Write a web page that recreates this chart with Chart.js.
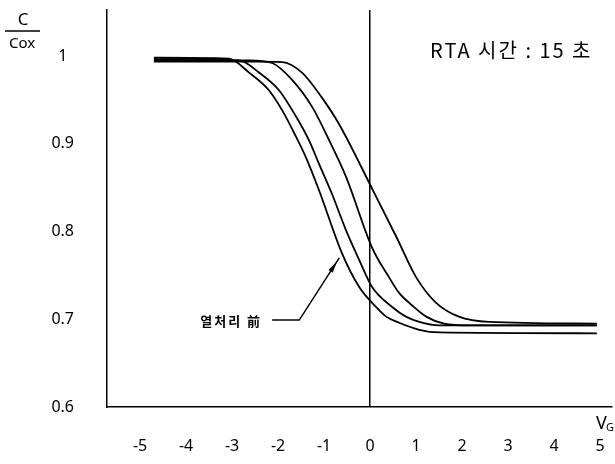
<!DOCTYPE html>
<html>
<head>
  <meta charset="UTF-8">
  <title>C/Cox - VG</title>
  <script src="https://cdn.jsdelivr.net/npm/chart.js"></script>
  <style>
    body {
      margin: 0;
      background: #fff;
    }
    #wrap {
      width: 615px;
      height: 464px;
    }
  </style>
</head>
<body>
<div id="wrap"><canvas id="chart"></canvas></div>

<script>
  // tick values on both axes
  const xTicks = [-5, -4, -3, -2, -1, 0, 1, 2, 3, 4, 5];
  const yTicks = [0.6, 0.7, 0.8, 0.9, 1];

  // curve 1 (열처리 前, leftmost)
  const vg1 = [-4.70, -3.07, -2.63, -2.20, -1.91, -1.61, -1.39, -1.11, -0.61, -0.24, 0.13, 0.35, 0.63, 1.07, 1.50, 4.93];
  const c1  = [0.998, 0.997, 0.981, 0.961, 0.938, 0.908, 0.884, 0.847, 0.775, 0.737, 0.714, 0.703, 0.696, 0.688, 0.685, 0.684];

  // curve 2
  const vg2 = [-4.70, -2.85, -2.41, -1.98, -1.61, -1.33, -1.11, -0.83, -0.52, -0.24, 0.04, 0.48, 0.78, 1.07, 1.50, 4.93];
  const c2  = [0.9965, 0.995, 0.981, 0.961, 0.931, 0.904, 0.877, 0.843, 0.801, 0.768, 0.737, 0.714, 0.703, 0.697, 0.693, 0.693];

  // curve 3
  const vg3 = [-4.70, -2.63, -2.13, -1.70, -1.26, -0.89, -0.52, 0.04, 0.41, 0.63, 0.91, 1.22, 1.61, 2.15, 4.93];
  const c3  = [0.995, 0.995, 0.992, 0.973, 0.942, 0.904, 0.862, 0.782, 0.748, 0.730, 0.716, 0.703, 0.695, 0.693, 0.693];

  // curve 4 (rightmost)
  const vg4 = [-4.70, -2.48, -1.91, -1.48, -1.04, -0.67, 0.09, 0.57, 1.00, 1.43, 1.93, 2.59, 4.93];
  const c4  = [0.9935, 0.9935, 0.993, 0.981, 0.952, 0.922, 0.844, 0.794, 0.748, 0.719, 0.703, 0.697, 0.695];

  // arrow annotation, in data units
  const noteText = '열처리 前';
  const noteTip = { x: -0.67, y: 0.770 };
  const noteElbow = { x: -1.54, y: 0.699 };
  const noteStart = { x: -2.13, y: 0.699 };

  function toPoints(xs, ys) {
    return xs.map((x, i) => ({ x: x, y: ys[i] }));
  }

  function curve(xs, ys) {
    return {
      data: toPoints(xs, ys),
      borderColor: '#000',
      borderWidth: 1.8,
      pointRadius: 0,
      fill: false,
      cubicInterpolationMode: 'monotone'
    };
  }

  const handFont = '"Noto Sans", "Noto Sans CJK KR", sans-serif';

  // extra labels: C/Cox, VG, RTA note and the arrow
  const notes = {
    id: 'notes',
    afterDraw(chart) {
      const ctx = chart.ctx;
      const x = chart.scales.x;
      const y = chart.scales.y;
      ctx.save();
      ctx.fillStyle = '#000';
      ctx.strokeStyle = '#000';
      ctx.textBaseline = 'middle';

      // C / Cox
      ctx.textAlign = 'center';
      ctx.font = '17px ' + handFont;
      ctx.fillText('C', 23, 20);
      ctx.lineWidth = 1.5;
      ctx.beginPath();
      ctx.moveTo(5, 31);
      ctx.lineTo(40, 31);
      ctx.stroke();
      ctx.font = '15px ' + handFont;
      ctx.fillText('Cox', 22, 44);

      // VG
      ctx.textAlign = 'left';
      ctx.font = '18px ' + handFont;
      ctx.fillText('V', 596, 424);
      ctx.font = '11px ' + handFont;
      ctx.fillText('G', 606, 428);

      // RTA 시간 : 15 초
      ctx.font = '20px "Noto Sans CJK KR", sans-serif';
      ctx.letterSpacing = '2px';
      ctx.fillText('RTA 시간 : 15 초', 430, 50);

      // arrow
      const tx = x.getPixelForValue(noteTip.x), ty = y.getPixelForValue(noteTip.y);
      const ex = x.getPixelForValue(noteElbow.x), ey = y.getPixelForValue(noteElbow.y);
      const sx = x.getPixelForValue(noteStart.x), sy = y.getPixelForValue(noteStart.y);
      ctx.lineWidth = 1.5;
      ctx.beginPath();
      ctx.moveTo(sx, sy);
      ctx.lineTo(ex, ey);
      ctx.lineTo(tx, ty);
      ctx.stroke();
      const ang = Math.atan2(ty - ey, tx - ex);
      const hx = tx - Math.cos(ang) * 4, hy = ty - Math.sin(ang) * 4;
      ctx.beginPath();
      ctx.moveTo(hx, hy);
      ctx.lineTo(hx - Math.cos(ang) * 12 - Math.sin(ang) * 2.5, hy - Math.sin(ang) * 12 + Math.cos(ang) * 2.5);
      ctx.lineTo(hx - Math.cos(ang) * 12 + Math.sin(ang) * 2.5, hy - Math.sin(ang) * 12 - Math.cos(ang) * 2.5);
      ctx.closePath();
      ctx.fill();

      ctx.textAlign = 'right';
      ctx.font = 'bold 13px "Noto Sans CJK KR", sans-serif';
      ctx.letterSpacing = '2px';
      ctx.fillText(noteText, sx - 10, sy + 1);
      ctx.restore();
    }
  };

  new Chart(document.getElementById('chart'), {
    type: 'line',
    data: {
      datasets: [curve(vg1, c1), curve(vg2, c2), curve(vg3, c3), curve(vg4, c4)]
    },
    options: {
      responsive: true,
      maintainAspectRatio: false,
      animation: false,
      layout: { padding: { top: 10, right: 3, left: 0, bottom: 0 } },
      plugins: {
        legend: { display: false },
        tooltip: { enabled: false }
      },
      scales: {
        x: {
          type: 'linear',
          min: -5.72,
          max: 5.26,
          afterBuildTicks: s => { s.ticks = xTicks.map(v => ({ value: v })); },
          afterFit: s => {
            s.height = 57;
            s.paddingLeft = 0;
            s.paddingRight = 0;
          },
          border: { display: true, color: '#000', width: 1.5 },
          grid: {
            drawTicks: false,
            lineWidth: 1.5,
            color: c => (c.tick && c.tick.value === 0 ? '#000' : 'rgba(0,0,0,0)')
          },
          ticks: {
            padding: 30,
            color: '#000',
            font: { size: 16, family: handFont },
            callback: v => String(v)
          }
        },
        y: {
          min: 0.6,
          max: 1.0524,
          afterBuildTicks: s => { s.ticks = yTicks.map(v => ({ value: v })); },
          afterFit: s => {
            s.width = 107;
            s.paddingTop = 0;
            s.paddingBottom = 0;
          },
          border: { display: true, color: '#000', width: 1.5 },
          grid: { display: false, drawTicks: false },
          ticks: {
            padding: 33,
            crossAlign: 'center',
            color: '#000',
            font: { size: 16, family: handFont },
            callback: v => (v === 1 ? '1' : v.toFixed(1))
          }
        }
      }
    },
    plugins: [notes]
  });
</script>
</body>
</html>
